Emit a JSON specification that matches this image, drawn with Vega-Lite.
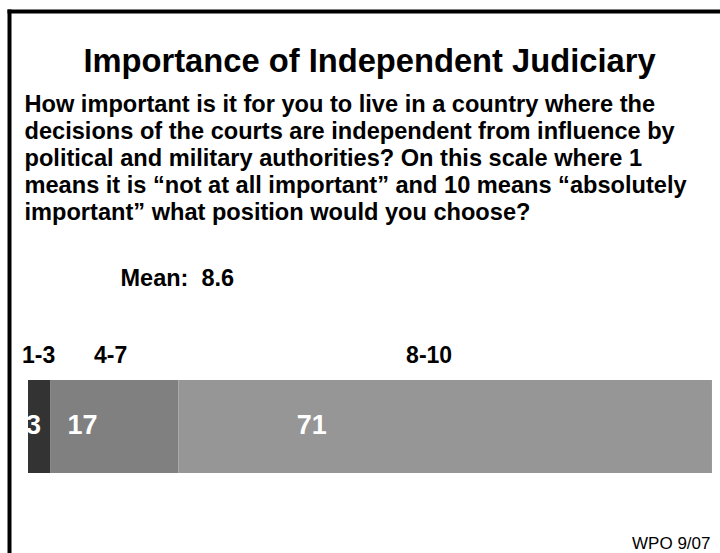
{
  "$schema": "https://vega.github.io/schema/vega-lite/v6.json",
  "width": 711,
  "height": 542,
  "autosize": {"type": "none"},
  "padding": {"left": 9, "top": 11, "right": 0, "bottom": 0},
  "background": "white",
  "config": {
    "font": "Liberation Sans",
    "view": {"stroke": null},
    "axis": {"grid": false}
  },
  "title": {
    "text": "Importance of Independent Judiciary",
    "anchor": "middle",
    "frame": "group",
    "fontSize": 32.7,
    "fontWeight": "bold",
    "color": "black",
    "dy": 72,
    "dx": 5
  },
  "data": {
    "values": [
      {"range": "1-3", "pct": 3},
      {"range": "4-7", "pct": 17},
      {"range": "8-10", "pct": 71}
    ]
  },
  "transform": [
    {"stack": "pct", "groupby": [], "as": ["x0", "x1"]},
    {"calculate": "datum.x0 + 0.25 * datum.pct", "as": "valueAt"},
    {"calculate": "datum.x0 + 0.47 * datum.pct", "as": "headAt"}
  ],
  "resolve": {"axis": {"x": "independent", "y": "independent"}},
  "layer": [
    {
      "mark": {"type": "bar"},
      "encoding": {
        "x": {
          "field": "x0",
          "type": "quantitative",
          "scale": {"domain": [-2.528, 92.07], "nice": false, "zero": false},
          "axis": {
            "orient": "top",
            "labels": false,
            "ticks": false,
            "grid": false,
            "domain": true,
            "domainColor": "black",
            "domainWidth": 4,
            "domainCap": "square",
            "title": [
              "How important is it for you to live in a country where the",
              "decisions of the courts are independent from influence by",
              "political and military authorities?  On this scale where 1",
              "means it is “not at all important” and 10 means “absolutely",
              "important” what position would you choose?"
            ],
            "titleX": 15,
            "titleY": 100,
            "titleAlign": "left",
            "titleAngle": 0,
            "titleBaseline": "alphabetic",
            "titleFontSize": 23.6,
            "titleFontWeight": "bold",
            "titleColor": "black",
            "titleLineHeight": 27,
            "titleLimit": 2000
          }
        },
        "x2": {"field": "x1"},
        "y": {
          "datum": "bar",
          "type": "nominal",
          "scale": {"domain": ["bar"], "paddingInner": 0.5857, "paddingOuter": 1, "align": 0.8218},
          "axis": {
            "orient": "left",
            "labels": false,
            "ticks": false,
            "grid": false,
            "domain": true,
            "domainColor": "black",
            "domainWidth": 4,
            "domainCap": "square",
            "title": "Mean:\u00a0 8.6",
            "titleX": 111,
            "titleY": 274,
            "titleAlign": "left",
            "titleAngle": 0,
            "titleBaseline": "alphabetic",
            "titleFontSize": 23.5,
            "titleFontWeight": "bold",
            "titleColor": "black",
            "titleLimit": 2000
          }
        },
        "color": {
          "field": "range",
          "type": "nominal",
          "scale": {"domain": ["1-3", "4-7", "8-10"], "range": ["#333333", "#808080", "#969696"]},
          "legend": null
        }
      }
    },
    {
      "mark": {"type": "text", "fontSize": 27, "fontWeight": "bold", "color": "white", "baseline": "middle", "align": "center"},
      "encoding": {
        "x": {
          "field": "valueAt",
          "type": "quantitative",
          "axis": {
            "orient": "bottom",
            "labels": false,
            "ticks": false,
            "grid": false,
            "domain": false,
            "title": "WPO 9/07",
            "titleX": 701,
            "titleY": -5,
            "titleAlign": "right",
            "titleAngle": 0,
            "titleBaseline": "alphabetic",
            "titleFontSize": 17,
            "titleFontWeight": "normal",
            "titleColor": "black"
          }
        },
        "y": {"datum": "bar", "type": "nominal", "axis": null},
        "text": {"field": "pct", "type": "quantitative"}
      }
    },
    {
      "mark": {"type": "text", "fontSize": 23, "fontWeight": "bold", "color": "black", "baseline": "alphabetic", "align": "center", "dy": -63.5},
      "encoding": {
        "x": {"field": "headAt", "type": "quantitative", "axis": null},
        "y": {"datum": "bar", "type": "nominal", "axis": null},
        "text": {"field": "range", "type": "nominal"}
      }
    }
  ]
}
